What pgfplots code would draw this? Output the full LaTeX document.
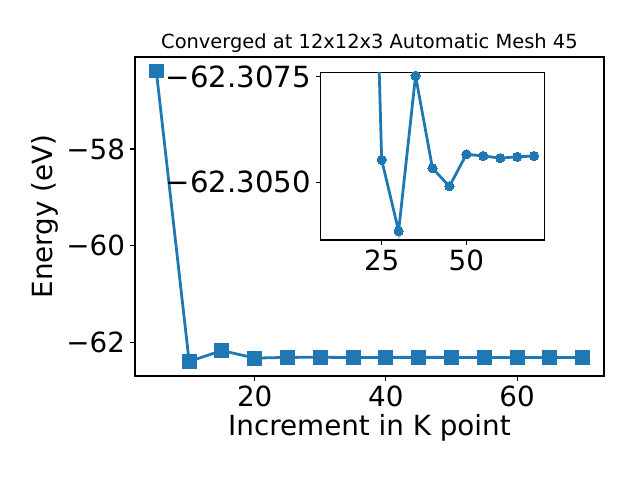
\documentclass[border=0pt]{standalone}
\usepackage{fontspec}
\setmainfont{DejaVu Sans}
\usepackage{pgfplots}
\pgfplotsset{compat=1.18}
\definecolor{mplblue}{HTML}{1F77B4}
\begin{document}
\begin{tikzpicture}[x=1pt,y=1pt]
\path[use as bounding box] (0,0) rectangle (460.8,345.6);
\pgfplotsset{
  mystyle/.style={
    scale only axis,
    anchor=south west,
    axis line style={line width=0.8pt, black},
    tick align=outside,
    major tick length=3.5pt,
    tick style={line width=0.8pt, black},
    xtick pos=bottom, ytick pos=left,
    /pgf/number format/assume math mode=true,
    tick label style={font=\fontsize{20}{24}\selectfont},
    yticklabel style={anchor=east, inner sep=0pt, xshift=-3.5pt},
    xticklabel style={anchor=north, inner sep=0pt, yshift=-3.5pt},
  }
}
\begin{axis}[mystyle,
  at={(97.2pt,74.88pt)}, width=337.7pt, height=229.7pt,
  xmin=1.75, xmax=73.25, ymin=-62.69, ymax=-56.10,
  xtick={20,40,60}, ytick={-62,-60,-58},
  yticklabels={−62,−60,−58},
]
\addplot[color=mplblue, line width=2pt, mark=square*, mark size=5pt,
  mark options={fill=mplblue, draw=mplblue, line width=0pt}] coordinates {
(5,-56.39) (10,-62.39) (15,-62.165) (20,-62.32) (25,-62.30553) (30,-62.30384)
(35,-62.30752) (40,-62.30533) (45,-62.30490) (50,-62.30566) (55,-62.30562)
(60,-62.30557) (65,-62.30560) (70,-62.30562)
};
\end{axis}
\node[anchor=base, font=\fontsize{14}{16}\selectfont] at (266.0,310.8) {Converged at 12x12x3 Automatic Mesh 45};
\node[anchor=base, font=\fontsize{20}{24}\selectfont] at (266.0,32.4) {Increment in K point};
\node[anchor=base, rotate=90, font=\fontsize{20}{24}\selectfont] at (37.9,189.7) {Energy (eV)};
\begin{axis}[mystyle,
  at={(230.9pt,172.8pt)}, width=161pt, height=120.7pt,
  xmin=7, xmax=73, ymin=-62.30760, ymax=-62.30363, y dir=reverse,
  xtick={25,50}, ytick={-62.3075,-62.3050},
  xticklabels={25,50},
  yticklabels={−62.3075,−62.3050},
  yticklabel style={font=\fontsize{21}{24}\selectfont},
  axis background/.style={fill=white},
]
\addplot[color=mplblue, line width=2pt, mark=*, mark size=3.3pt,
  mark options={fill=mplblue, draw=mplblue, line width=0pt}] coordinates {
(20,-62.32) (25,-62.30553) (30,-62.30384)
(35,-62.30752) (40,-62.30533) (45,-62.30490) (50,-62.30566) (55,-62.30562)
(60,-62.30557) (65,-62.30560) (70,-62.30562)
};
\end{axis}
\end{tikzpicture}
\end{document}
